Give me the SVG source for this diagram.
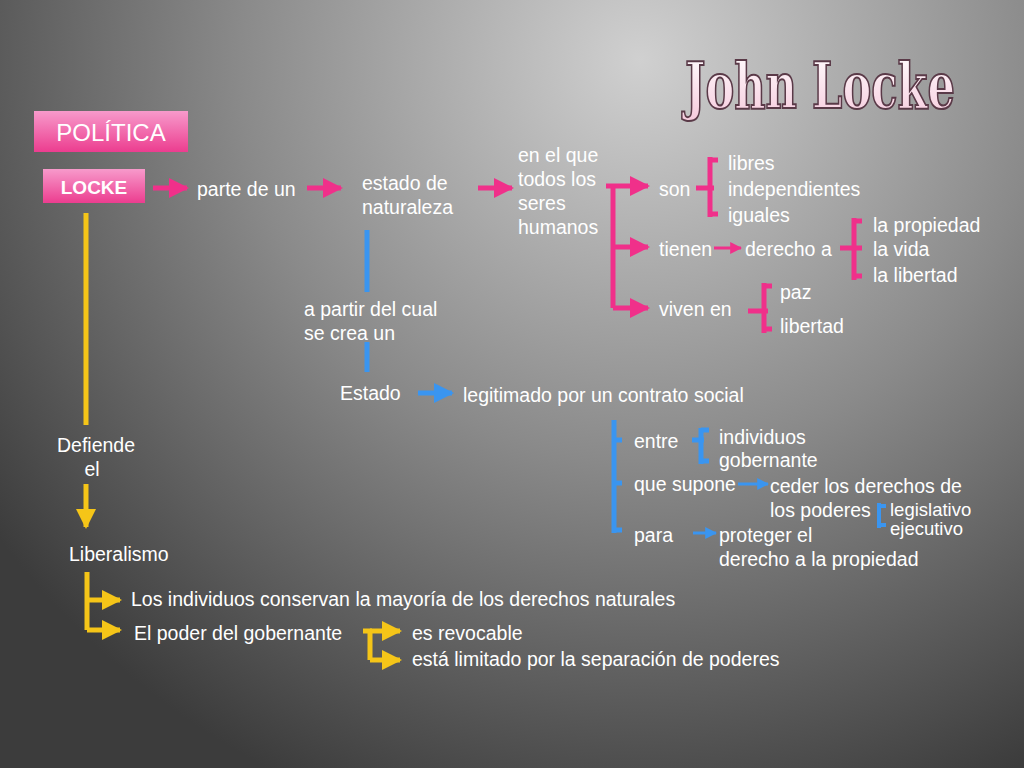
<svg xmlns="http://www.w3.org/2000/svg" width="1024" height="768" viewBox="0 0 1024 768">
<defs>
<radialGradient id="bg" cx="640" cy="60" r="800" gradientUnits="userSpaceOnUse">
<stop offset="0" stop-color="#d0d0d0"/><stop offset="0.5" stop-color="#8a8a8a"/><stop offset="1" stop-color="#3c3c3c"/>
</radialGradient>
<linearGradient id="pk" x1="0" y1="0" x2="0" y2="1"><stop offset="0" stop-color="#f79acb"/><stop offset="1" stop-color="#ec3d8f"/></linearGradient>
<linearGradient id="tt" x1="0" y1="0" x2="0" y2="1"><stop offset="0" stop-color="#ffffff"/><stop offset="1" stop-color="#f6c9dc"/></linearGradient>
<marker id="ap" viewBox="0 0 10 10" refX="9" refY="5" markerWidth="4" markerHeight="4" orient="auto"><path d="M0 0L10 5L0 10z" fill="#f0308a"/></marker>
<marker id="ab" viewBox="0 0 10 10" refX="9" refY="5" markerWidth="4" markerHeight="4" orient="auto"><path d="M0 0L10 5L0 10z" fill="#3a95f0"/></marker>
<marker id="ay" viewBox="0 0 10 10" refX="9" refY="5" markerWidth="4" markerHeight="4" orient="auto"><path d="M0 0L10 5L0 10z" fill="#f5c518"/></marker>
</defs>
<style>
text{font-family:"Liberation Sans",Arial,sans-serif;font-size:19.5px;fill:#ffffff}
.p{stroke:#f0308a;stroke-width:5;fill:none}
.b{stroke:#3a95f0;stroke-width:5;fill:none}
.y{stroke:#f5c518;stroke-width:5;fill:none}
.pa{marker-end:url(#ap)}.ba{marker-end:url(#ab)}.ya{marker-end:url(#ay)}
</style>
<rect width="1024" height="768" fill="url(#bg)"/>
<text transform="translate(685 108) scale(0.75 1)" x="0" y="0" style="font-family:'DejaVu Serif Condensed','DejaVu Serif',serif;font-size:64px;font-weight:bold;fill:url(#tt);stroke:#5a3a48;stroke-width:2">John Locke</text>
<g id="politica"><rect x="34" y="111" width="154" height="41" fill="url(#pk)"/><text x="111" y="141" text-anchor="middle" style="font-size:24px">POLÍTICA</text></g>
<g id="locke"><rect x="43" y="169" width="102" height="34" fill="url(#pk)"/><text x="94" y="194" text-anchor="middle" style="font-size:19px;font-weight:bold">LOCKE</text></g>
<g id="connectors">
<line class="p pa" x1="153" y1="188" x2="187" y2="188"/>
<line class="p pa" x1="307" y1="188" x2="341" y2="188"/>
<line class="p pa" x1="478" y1="188" x2="512" y2="188"/>
<path class="p" d="M613 186V308"/>
<line class="p pa" x1="606" y1="186" x2="648" y2="186"/>
<line class="p pa" x1="613" y1="247" x2="648" y2="247"/>
<line class="p pa" x1="613" y1="308" x2="648" y2="308"/>
<path class="p" d="M696 188H714M710 157V217M710 160H718M710 214H718"/>
<line class="p pa" x1="714" y1="248" x2="741" y2="248" style="stroke-width:3"/>
<path class="p" d="M840 248H862M854 218V280M854 221H862M854 276H862"/>
<path class="p" d="M748 311H768M764 283V333M764 286H772M764 329H772"/>
<path class="b" d="M367 230V292M367 342V372"/>
<line class="b ba" x1="418" y1="393" x2="452" y2="393"/>
<path class="b" d="M614 420V533M614 440H622M614 483H622M614 530H622"/>
<path class="b" d="M692 440H704M701 428V464M701 430H709M701 461H709"/>
<line class="b ba" x1="738" y1="484" x2="768" y2="484" style="stroke-width:3"/>
<path class="b" d="M879 503V528M879 506H886M879 525H886" style="stroke-width:4"/>
<line class="b ba" x1="693" y1="533" x2="716" y2="533" style="stroke-width:3"/>
<path class="y" d="M86 213V425"/>
<line class="y ya" x1="86" y1="484" x2="86" y2="527"/>
<path class="y" d="M87 572V630"/>
<line class="y ya" x1="87" y1="600" x2="120" y2="600"/>
<line class="y ya" x1="87" y1="630" x2="120" y2="630"/>
<path class="y" d="M363 631H372M370 631V660"/>
<line class="y ya" x1="370" y1="631" x2="400" y2="631"/>
<line class="y ya" x1="370" y1="660" x2="400" y2="660"/>
</g>
<g id="labels">
<text x="197" y="196">parte de un</text>
<text x="362" y="190">estado de</text><text x="362" y="214">naturaleza</text>
<text x="518" y="162">en el que</text><text x="518" y="186">todos los</text><text x="518" y="210">seres</text><text x="518" y="234">humanos</text>
<text x="659" y="196">son</text>
<text x="728" y="170">libres</text><text x="728" y="196">independientes</text><text x="728" y="222">iguales</text>
<text x="659" y="256">tienen</text><text x="745" y="256">derecho a</text>
<text x="873" y="232">la propiedad</text><text x="873" y="256">la vida</text><text x="873" y="282">la libertad</text>
<text x="659" y="316">viven en</text>
<text x="780" y="299">paz</text><text x="780" y="333">libertad</text>
<text x="304" y="316">a partir del cual</text><text x="304" y="340">se crea un</text>
<text x="340" y="400">Estado</text>
<text x="463" y="402">legitimado por un contrato social</text>
<text x="634" y="448">entre</text>
<text x="719" y="444">individuos</text><text x="719" y="467">gobernante</text>
<text x="634" y="491">que supone</text>
<text x="770" y="493">ceder los derechos de</text><text x="770" y="517">los poderes</text>
<text x="890" y="516" style="font-size:18.5px">legislativo</text><text x="890" y="535" style="font-size:18.5px">ejecutivo</text>
<text x="634" y="542">para</text>
<text x="719" y="542">proteger el</text><text x="719" y="566">derecho a la propiedad</text>
<text x="96" y="452" text-anchor="middle">Defiende</text><text x="92" y="476" text-anchor="middle">el</text>
<text x="69" y="561">Liberalismo</text>
<text x="131" y="606">Los individuos conservan la mayoría de los derechos naturales</text>
<text x="134" y="640">El poder del gobernante</text>
<text x="412" y="640">es revocable</text>
<text x="412" y="666">está limitado por la separación de poderes</text>
</g>
</svg>
